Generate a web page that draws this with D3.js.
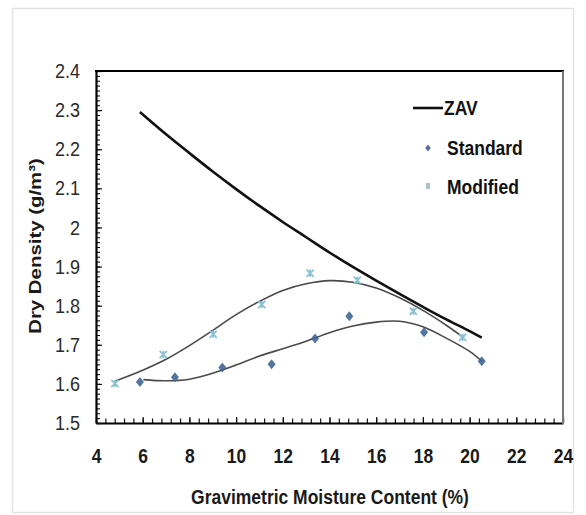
<!DOCTYPE html>
<html>
<head>
<meta charset="utf-8">
<script src="https://cdn.jsdelivr.net/npm/d3@7"></script>
<style>
  html, body { margin: 0; padding: 0; background: #fff; }
  svg { display: block; font-family: "Liberation Sans", Arial, sans-serif; }
</style>
</head>
<body>
<svg id="chart" width="586" height="515"></svg>
<script>
// ---- data ----
const standardX = [5.88, 7.38, 9.41, 11.52, 13.38, 14.85, 18.05, 20.52];
const standardY = [1.605, 1.617, 1.642, 1.650, 1.716, 1.773, 1.732, 1.658];

const modifiedX = [4.81, 6.88, 9.02, 11.10, 13.17, 15.19, 17.59, 19.70];
const modifiedY = [1.601, 1.675, 1.727, 1.803, 1.883, 1.865, 1.786, 1.719];

const zavX = [5.88, 7, 8, 9, 10, 11, 12, 13, 14, 15, 16, 17, 18, 19, 20, 20.52];
const zavY = [2.295, 2.238, 2.190, 2.143, 2.098, 2.055, 2.014, 1.975, 1.936, 1.899, 1.864, 1.830, 1.797, 1.765, 1.735, 1.718];

const modFitX = [4.81, 6, 7, 8, 9, 10, 11, 12, 13, 14, 15, 16, 17, 18, 19, 19.75];
const modFitY = [1.607, 1.635, 1.663, 1.698, 1.737, 1.777, 1.811, 1.839, 1.856, 1.864, 1.860, 1.845, 1.820, 1.788, 1.750, 1.718];

const stdFitX = [6.03, 7, 8, 9, 10, 11, 12, 13, 14, 15, 16, 17, 18, 19, 20, 20.52];
const stdFitY = [1.611, 1.608, 1.612, 1.627, 1.648, 1.671, 1.690, 1.709, 1.731, 1.748, 1.758, 1.760, 1.746, 1.717, 1.683, 1.658];

const xTicks = [4, 6, 8, 10, 12, 14, 16, 18, 20, 22, 24];
const yTicks = [1.5, 1.6, 1.7, 1.8, 1.9, 2.0, 2.1, 2.2, 2.3, 2.4];
const yTickLabels = ["1.5", "1.6", "1.7", "1.8", "1.9", "2", "2.1", "2.2", "2.3", "2.4"];

const legendLabels = ["ZAV", "Standard", "Modified"];
const xTitle = "Gravimetric Moisture Content (%)";
const yTitle = "Dry Density (g/m\u00B3)";

// ---- drawing ----
const svg = d3.select("#chart");
const L = 96, R = 563, T = 71, B = 423;
const SY = 1.15; // vertical stretch of text as seen in reference

const x = d3.scaleLinear().domain([4, 24]).range([L, R]);
const y = d3.scaleLinear().domain([1.5, 2.4]).range([B, T]);

// outer light frame
svg.append("rect").attr("x", 12.5).attr("y", 8.5).attr("width", 561).attr("height", 504)
  .attr("fill", "none").attr("stroke", "#e4e4e4").attr("stroke-width", 1.5);

// minor ticks
const xMinor = d3.range(4, 24.001, 0.4);
const yMinor = d3.range(1.5, 2.4001, 0.0125);
svg.append("g").attr("transform", `translate(0,${B})`)
  .call(d3.axisBottom(x).tickValues(xMinor).tickFormat("").tickSizeInner(-4.5).tickSizeOuter(0))
  .call(g => g.select(".domain").remove())
  .call(g => g.selectAll("line").attr("stroke", "#111").attr("stroke-width", 1.2));
svg.append("g").attr("transform", `translate(${L},0)`)
  .call(d3.axisLeft(y).tickValues(yMinor).tickFormat("").tickSizeInner(-4).tickSizeOuter(0))
  .call(g => g.select(".domain").remove())
  .call(g => g.selectAll("line").attr("stroke", "#111").attr("stroke-width", 1.1));

// major axes
const xAxis = svg.append("g").attr("transform", `translate(0,${B})`)
  .call(d3.axisBottom(x).tickValues(xTicks).tickFormat(d3.format("d"))
    .tickSizeInner(-6).tickSizeOuter(0).tickPadding(22));
xAxis.select(".domain").attr("stroke", "#000").attr("stroke-width", 2.2);
xAxis.selectAll("line").attr("stroke", "#111").attr("stroke-width", 1.2);
xAxis.selectAll("text").attr("font-size", 17.5).attr("font-weight", "bold")
  .attr("fill", "#1a1a1a").attr("font-family", "Liberation Sans, Arial, sans-serif")
  .attr("transform", `scale(1,${SY})`);

const yAxis = svg.append("g").attr("transform", `translate(${L},0)`)
  .call(d3.axisLeft(y).tickValues(yTicks).tickFormat((d, i) => yTickLabels[i])
    .tickSizeInner(-6).tickSizeOuter(0).tickPadding(16));
yAxis.select(".domain").attr("stroke", "#000").attr("stroke-width", 2.2);
yAxis.selectAll("line").attr("stroke", "#111").attr("stroke-width", 1.2);
yAxis.selectAll("text").attr("font-size", 18).attr("fill", "#2a2a2a")
  .attr("font-family", "Liberation Sans, Arial, sans-serif")
  .attr("transform", `scale(1,${SY})`);

// top and right frame
svg.append("line").attr("x1", L - 1).attr("x2", R + 1).attr("y1", T).attr("y2", T)
  .attr("stroke", "#000").attr("stroke-width", 2.2);
svg.append("line").attr("x1", R).attr("x2", R).attr("y1", T).attr("y2", B + 1)
  .attr("stroke", "#777").attr("stroke-width", 2);

// lines
const line = d3.line().x(d => x(d[0])).y(d => y(d[1])).curve(d3.curveCatmullRom);
const zav = zavX.map((v, i) => [v, zavY[i]]);
const modFit = modFitX.map((v, i) => [v, modFitY[i]]);
const stdFit = stdFitX.map((v, i) => [v, stdFitY[i]]);

svg.append("path").attr("d", line(modFit)).attr("fill", "none")
  .attr("stroke", "#4a4a4a").attr("stroke-width", 1.6);
svg.append("path").attr("d", line(stdFit)).attr("fill", "none")
  .attr("stroke", "#4a4a4a").attr("stroke-width", 1.6);
svg.append("path").attr("d", line(zav)).attr("fill", "none")
  .attr("stroke", "#111").attr("stroke-width", 2.6);

// markers
const diamond = (cx, cy, s) => `M${cx},${cy - s}L${cx + s * 0.8},${cy}L${cx},${cy + s}L${cx - s * 0.8},${cy}Z`;
svg.append("g").selectAll("path").data(standardX.map((v, i) => [v, standardY[i]]))
  .join("path").attr("d", d => diamond(x(d[0]), y(d[1]), 5))
  .attr("fill", "#3f6596").attr("opacity", 0.9);

const xMark = (cx, cy, s) => `M${cx - s},${cy - s}L${cx + s},${cy + s}M${cx + s},${cy - s}L${cx - s},${cy + s}M${cx},${cy - s}L${cx},${cy + s}`;
svg.append("g").selectAll("path").data(modifiedX.map((v, i) => [v, modifiedY[i]]))
  .join("path").attr("d", d => xMark(x(d[0]), y(d[1]), 3.6))
  .attr("fill", "none").attr("stroke", "#8cc3d3").attr("stroke-width", 1.8);

// legend
const lg = svg.append("g");
lg.append("line").attr("x1", 413).attr("x2", 443).attr("y1", 108).attr("y2", 108)
  .attr("stroke", "#111").attr("stroke-width", 2.6);
lg.append("path").attr("d", diamond(428, 148, 3.5)).attr("fill", "#5a6fa0");
lg.append("rect").attr("x", 426).attr("y", 183).attr("width", 4).attr("height", 6).attr("fill", "#a9c6c2");
const legY = [108, 148, 187];
const legX = [444, 447, 447];
legendLabels.forEach((t, i) => {
  lg.append("g").attr("transform", `translate(${legX[i]},${legY[i]}) scale(1,${SY})`)
    .append("text").attr("x", 0).attr("y", 0).attr("dy", "0.35em")
    .attr("font-size", 17.5).attr("font-weight", "bold").attr("fill", "#111")
    .text(t);
});

// axis titles
svg.append("g").attr("transform", `translate(330,497) scale(1,${SY})`)
  .append("text").attr("text-anchor", "middle").attr("dy", "0.35em")
  .attr("font-size", 17.5).attr("font-weight", "bold").attr("fill", "#1a1a1a")
  .text(xTitle);

svg.append("g").attr("transform", `translate(35,246) rotate(-90) scale(1.2,1)`)
  .append("text").attr("text-anchor", "middle").attr("dy", "0.35em")
  .attr("font-size", 17).attr("font-weight", "bold").attr("fill", "#1a1a1a")
  .text(yTitle);
</script>
</body>
</html>
